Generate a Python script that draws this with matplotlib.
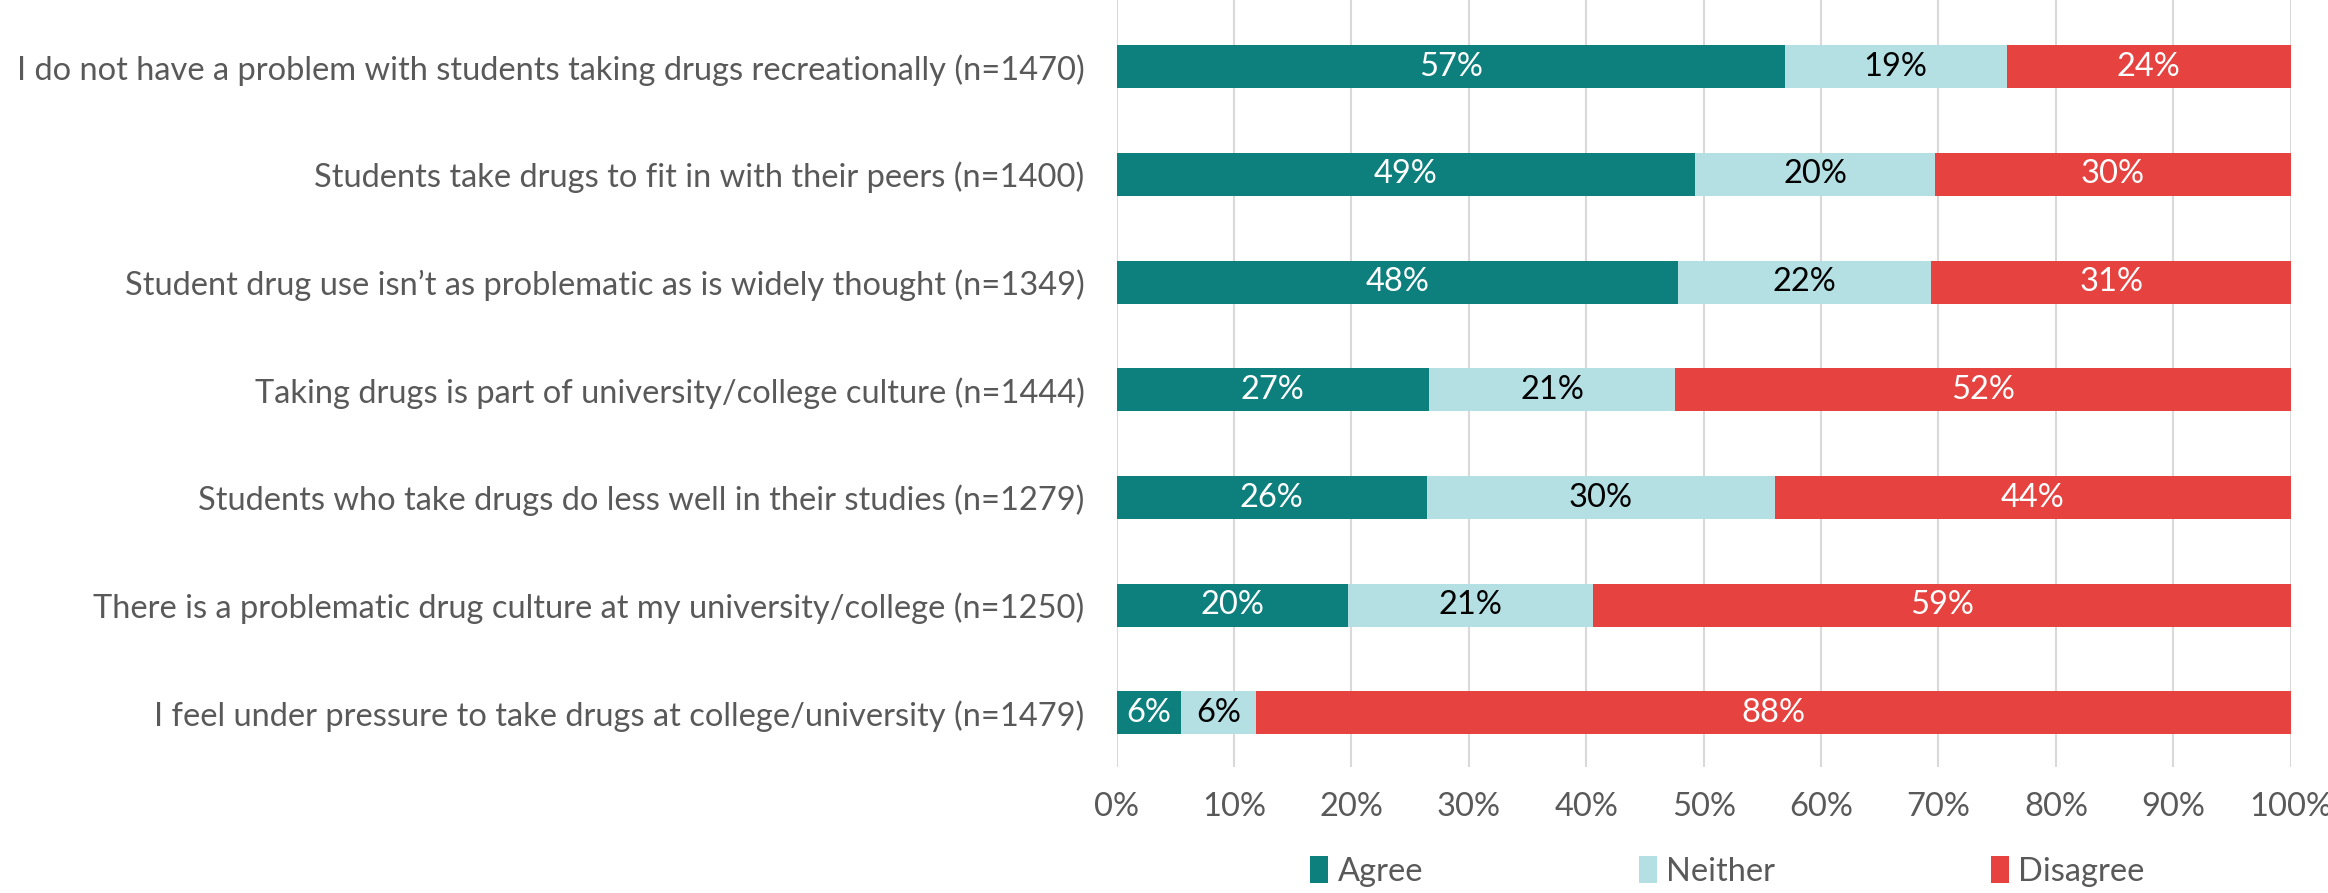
import matplotlib.pyplot as plt
import numpy as np

plt.rcParams['font.family'] = ['Lato', 'DejaVu Sans']

statements = [
    'I do not have a problem with students taking drugs recreationally (n=1470)',
    'Students take drugs to fit in with their peers (n=1400)',
    'Student drug use isn\u2019t as problematic as is widely thought (n=1349)',
    'Taking drugs is part of university/college culture (n=1444)',
    'Students who take drugs do less well in their studies (n=1279)',
    'There is a problematic drug culture at my university/college (n=1250)',
    'I feel under pressure to take drugs at college/university (n=1479)',
]
agree = [56.9, 49.3, 47.8, 26.6, 26.4, 19.7, 5.5]
neither = [18.9, 20.4, 21.6, 21.0, 29.7, 20.9, 6.4]
disagree = [24.2, 30.3, 30.6, 52.4, 43.9, 59.4, 88.1]

series = ['Agree', 'Neither', 'Disagree']
colours = ['#0d807e', '#b4dfe3', '#e6423f']
text_colours = ['white', 'black', 'white']
fs = 23.5

fig = plt.figure(figsize=(23.28, 8.93), dpi=100)
ax = fig.add_axes([0.4796, 0.1414, 0.5044, 0.8586])

y = np.arange(len(statements))
left = np.zeros(len(statements))
for name, vals, col, tc in zip(series, [agree, neither, disagree], colours, text_colours):
    vals = np.array(vals)
    bars = ax.barh(y, vals, left=left, height=0.4, color=col, label=name, zorder=3)
    ax.bar_label(bars, labels=['{:.0f}%'.format(v) for v in vals], label_type='center',
                 color=tc, fontsize=fs)
    left = left + vals

ax.set_xlim(0, 100)
ax.set_ylim(len(statements) - 0.5, -0.62)
ax.set_yticks(y)
ax.set_yticklabels(statements, fontsize=fs, color='#595959')
ax.set_xticks(np.arange(0, 101, 10))
ax.set_xticklabels(['{}%'.format(v) for v in range(0, 101, 10)], fontsize=fs, color='#595959')
ax.tick_params(axis='y', length=0, pad=23)
ax.tick_params(axis='x', length=0, pad=18)
ax.grid(axis='x', color='#d9d9d9', linewidth=1.5, zorder=0)
for s in ax.spines.values():
    s.set_visible(False)

fig.legend(loc='center', bbox_to_anchor=(0.742, 0.024), ncol=3, frameon=False,
           fontsize=fs, labelcolor='#595959', handlelength=0.55, handleheight=0.9,
           handletextpad=0.3, columnspacing=6.6)

fig.savefig('out.png', dpi=100)
